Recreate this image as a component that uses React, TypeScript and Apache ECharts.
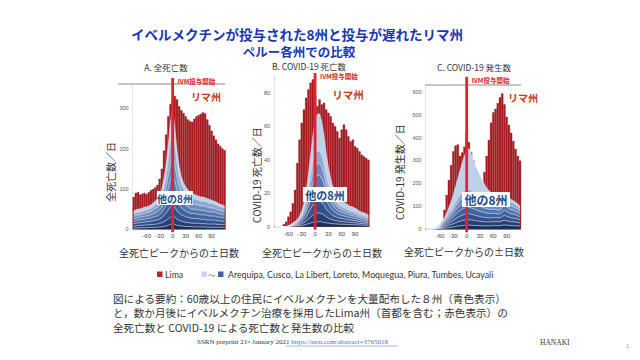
import React, { useEffect, useRef } from 'react';
import * as echarts from 'echarts';

const days = [-90,-85,-80,-75,-70,-65,-60,-55,-50,-45,-40,-35,-30,-25,-20,-15,-10,-5,0,5,10,15,20,25,30,35,40,45,50,55,60,65,70,75,80,85,90,95,100,105,110,115,120];
const tickDays = [-60,-30,0,30,60,90];

// A. 全死亡数
const limaA = [80,90,92,86,88,90,87,92,97,100,104,110,125,150,195,235,280,310,322,330,322,305,295,288,280,272,268,266,274,280,283,286,290,287,272,258,244,232,222,212,206,200,196];
const a1 = [3,3,3,4,4,4,4,4,5,5,5,5,6,6,7,8,10,12,14,12,10,9,8,8,7,7,7,6,6,6,6,6,6,6,5,5,5,5,5,5,5,5,5];
const a2 = [5,5,6,6,6,6,7,7,7,7,8,8,9,10,12,14,16,18,20,18,15,13,12,11,10,10,9,9,9,9,9,8,8,8,8,8,8,8,8,7,7,7,7];
const a3 = [6,7,7,7,7,8,8,8,8,9,10,10,11,13,15,18,22,26,28,25,21,18,16,15,14,13,12,12,12,12,11,11,11,11,10,10,10,10,9,9,9,8,8];
const a4 = [6,6,7,7,7,7,7,8,8,9,9,10,11,13,16,20,25,30,33,30,25,20,17,15,14,13,12,12,12,11,11,11,11,11,11,10,10,10,10,9,9,9,8];
const a5 = [6,6,6,6,7,7,7,7,8,8,9,10,11,13,16,21,28,35,40,34,26,20,17,15,14,13,12,11,11,11,11,11,11,10,10,10,10,10,9,9,9,8,8];
const a6 = [6,7,7,6,7,7,7,8,8,9,10,11,12,15,19,25,33,42,48,40,31,24,20,17,15,14,13,12,12,12,11,11,11,11,11,10,10,9,9,9,8,8,8];
const a7 = [6,7,7,7,7,8,8,8,8,9,9,10,12,15,20,27,38,50,57,47,35,27,22,19,17,16,15,14,13,13,13,12,12,12,12,12,11,11,11,10,9,9,9];
const a8 = [7,7,7,7,7,8,7,8,8,9,10,11,13,15,20,27,38,52,60,44,32,24,18,15,14,12,12,12,11,10,10,10,10,9,9,9,8,7,7,6,6,6,5];

// B. COVID-19 死亡数
const limaB = [0,0,0,0.5,1.5,3,6,9,14,22,38,52,62,70,77,82,86,88,78,72,76,73,74,70,68,66,62,60,57,53,58,61,58,54,51,52,48,47,45,43,42,41,40];
const b1 = [0,0,0,0,0,0,0,0.2,0.3,0.4,0.5,0.6,0.8,1,1.4,1.8,2.2,2.6,2.8,3,3,2.8,2.6,2.3,2.1,1.9,1.8,1.7,1.6,1.5,1.5,1.4,1.4,1.3,1.2,1.2,1.1,1.1,1,1,0.9,0.9,0.8];
const b2 = [0,0,0,0,0,0,0.1,0.2,0.3,0.4,0.5,0.7,1,1.4,2,2.8,3.6,4.4,5,5.2,5.2,4.9,4.4,3.6,3,2.6,2.2,2,1.8,1.7,1.6,1.5,1.4,1.3,1.3,1.2,1.2,1.1,1,0.9,0.9,0.8,0.7];
const b3 = [0,0,0,0,0,0,0.1,0.2,0.3,0.4,0.5,0.8,1.1,1.7,2.4,3.6,4.8,6,6.6,7,7,6.6,5.8,4.7,3.9,3.2,2.7,2.4,2.1,1.9,1.8,1.7,1.6,1.5,1.4,1.4,1.3,1.2,1.1,1,1,0.9,0.8];
const b4 = [0,0,0,0,0,0,0.1,0.1,0.3,0.4,0.6,0.8,1.2,1.9,2.8,4,5.4,6.8,7.6,8,8.1,7.6,6.6,5.3,4.3,3.5,2.9,2.5,2.2,2,1.9,1.8,1.7,1.6,1.5,1.4,1.3,1.2,1.1,1,1,0.9,0.8];
const b5 = [0,0,0,0,0,0,0.1,0.1,0.2,0.4,0.5,0.8,1.1,1.8,2.6,3.8,5.1,6.3,7.1,7.5,7.6,7.1,6.2,5,4.1,3.4,2.8,2.4,2.1,1.9,1.8,1.7,1.6,1.5,1.4,1.4,1.3,1.2,1.1,1,1,0.9,0.7];
const b6 = [0,0,0,0,0,0,0,0.1,0.2,0.3,0.4,0.7,1,1.6,2.3,3.5,4.7,5.9,6.7,7,7.1,6.7,5.8,4.6,3.8,3.1,2.6,2.2,2,1.8,1.7,1.6,1.5,1.4,1.3,1.3,1.2,1.1,1,1,0.9,0.9,0.8];
const b7 = [0,0,0,0,0,0,0,0.1,0.2,0.3,0.5,0.6,1,1.5,2.3,3.5,4.9,6.2,7,7.4,7.4,6.9,6,4.8,3.9,3.2,2.6,2.2,1.9,1.7,1.6,1.5,1.5,1.4,1.3,1.3,1.2,1.1,1,1,0.9,0.8,0.8];
const b8 = [0,0,0,0,0,0,0.1,0.2,0.4,0.6,0.8,1.2,2,3,5,8,12,16,20,22,22,20,17,13,10,8,6,5,4.5,4,3.5,3.3,3,2.8,2.6,2.5,2.4,2.2,2,1.8,1.7,1.6,1.4];

// C. COVID-19 発生数
const limaC = [0,0,0,0,0,0,0,30,85,150,215,280,340,365,370,320,335,360,420,380,335,300,265,225,205,200,250,320,390,465,510,525,550,575,592,545,490,455,420,385,350,320,300];
const c1 = [0,0,0,0.3,1,2,3,4,5,6,8,9,10,12,14,15,16,17,18,18,18,17,17,16,16,15,15,15,15,15,16,16,16,16,18,19,18,17,16,16,15,15,14];
const c2 = [0,0,0,0.3,1,2,3,4,6,8,10,12,14,16,18,20,22,23,24,24,23,22,21,20,19,18,18,17,17,17,17,17,17,17,19,20,19,18,17,17,16,15,14];
const c3 = [0,0,0,0.3,1,2,3,5,6,8,10,12,15,18,20,22,24,25,26,26,25,24,23,22,21,20,19,19,18,18,18,18,17,17,19,21,20,18,17,16,16,15,13];
const c4 = [0,0,0,0.3,1,2,3,5,7,9,11,13,16,19,22,24,26,27,28,28,27,26,25,24,23,22,21,20,19,19,19,18,17,17,20,22,21,19,18,17,16,15,13];
const c5 = [0,0,0,0.3,1,2,3,5,6,8,10,12,15,18,21,23,25,26,27,27,26,25,24,23,22,21,20,19,18,18,18,17,17,16,19,21,20,18,17,17,16,15,13];
const c6 = [0,0,0,0.2,1,1.5,3,4,6,8,10,12,14,17,20,22,24,25,26,26,25,24,23,22,21,20,19,18,18,17,17,17,16,16,18,20,19,17,16,16,15,14,12];
const c7 = [0,0,0,0.2,1,1.5,3,4,6,8,10,12,14,17,19,21,23,24,25,25,24,23,22,21,20,19,18,17,17,16,16,16,15,15,17,19,18,17,16,15,14,13,12];
const c8 = [0,0,0,0.2,1,2,4,7,8,15,26,38,52,68,86,108,130,153,171,178,162,139,120,107,93,80,65,55,46,40,34,31,25,21,20,20,20,16,13,11,10,8,9];

const stateNames = ['Arequipa','Cusco','La Libert','Loreto','Moquegua','Piura','Tumbes','Ucayali'];
const blueColors = ['#1b2e58','#253f73','#30518d','#3e63a0','#5276b0','#6a8cc0','#8daad3','#bdd1e9'];
const yTicksA = [0,100,200,300];
const yTicksB = [0,20,40,60,80];
const yTicksC = [0,100,200,300,400,500,600];

const FONT = "'Noto Sans CJK JP', 'Noto Sans', sans-serif";

function buildSeries(gi: number, stack: string, lima: number[], bands: number[][]) {
  const out: any[] = [];
  out.push({
    type: 'bar', name: 'Lima', xAxisIndex: gi, yAxisIndex: gi,
    data: lima, barCategoryGap: '0%', z: 1, silent: true,
    itemStyle: { color: '#ad1b20', borderColor: '#80131a', borderWidth: 0.3 },
  });
  bands.forEach((b, k) => {
    out.push({
      type: 'line', name: stateNames[k], xAxisIndex: gi, yAxisIndex: gi, stack,
      data: b, symbol: 'none', showSymbol: false, silent: true, z: 3,
      lineStyle: { width: 0.7, color: 'rgba(232,240,250,0.85)' },
      areaStyle: { color: blueColors[k], opacity: 1 },
    });
  });
  return out;
}

const xAxisBase = (gi: number) => ({
  type: 'category', gridIndex: gi, data: days.map(String), boundaryGap: true,
  axisLine: { show: true, lineStyle: { color: '#bdbdbd', width: 0.8 } },
  axisTick: { show: false },
  splitLine: { show: false },
  axisLabel: {
    interval: (_i: number, v: string) => tickDays.indexOf(Number(v)) >= 0,
    fontSize: 6, color: '#444', margin: 4, fontFamily: 'Liberation Sans',
  },
});
const yAxisBase = (gi: number, max: number, ticks: number[]) => ({
  type: 'value', gridIndex: gi, min: 0, max,
  axisLine: { show: true, lineStyle: { color: '#dddddd', width: 0.8 } },
  axisTick: { show: false },
  splitLine: { show: false },
  axisLabel: { customValues: ticks, fontSize: 5.5, color: '#555', margin: 4, fontFamily: 'Liberation Sans' },
});

export default function App() {
  const ref = useRef<HTMLDivElement>(null);
  useEffect(() => {
    if (!ref.current) return;
    const chart = echarts.init(ref.current, null, { renderer: 'svg' });
    const option: any = {
      animation: false,
      backgroundColor: '#ffffff',
      textStyle: { fontFamily: FONT },
      grid: [
        { left: 132.6, top: 84, width: 93.1, height: 145.3 },
        { left: 274, top: 76, width: 95.5, height: 150.7 },
        { left: 425.6, top: 84.8, width: 95.5, height: 144.5 },
      ],
      xAxis: [xAxisBase(0), xAxisBase(1), xAxisBase(2)],
      yAxis: [yAxisBase(0, 360, yTicksA), yAxisBase(1, 90, yTicksB), yAxisBase(2, 630, yTicksC)],
      series: [
        ...buildSeries(0, 'A', limaA, [a1, a2, a3, a4, a5, a6, a7, a8]),
        ...buildSeries(1, 'B', limaB, [b1, b2, b3, b4, b5, b6, b7, b8]),
        ...buildSeries(2, 'C', limaC, [c1, c2, c3, c4, c5, c6, c7, c8]),
      ],
    };
    chart.setOption(option);

    const g: any[] = [];
    const txt = (x: number, y: number, text: string, s: any = {}, extra: any = {}) =>
      g.push({ type: 'text', x, y, z: 100, ...extra, style: { text, fontFamily: FONT, align: 'center', verticalAlign: 'middle', fill: '#333', fontSize: 10, ...s } });

    // title
    txt(297, 33.5, 'イベルメクチンが投与された8州と投与が遅れたリマ州', { fontSize: 13.5, fontWeight: 'bold', fill: '#1b35b2' });
    txt(299, 51.5, 'ペルー各州での比較', { fontSize: 12.5, fontWeight: 'bold', fill: '#1b35b2' });
    // subtitles
    txt(166, 67, 'A. 全死亡数', { fontSize: 8.5, fill: '#333' });
    txt(309, 66, 'B. COVID-19 死亡数', { fontSize: 8.5, fill: '#333' });
    txt(474, 67, 'C. COVID-19 発生数', { fontSize: 8.5, fill: '#333' });
    // y names
    txt(110, 172, '全死亡数／日', { fontSize: 10 }, { rotation: Math.PI / 2 });
    txt(256, 175, 'COVID-19 死亡数／日', { fontSize: 10 }, { rotation: Math.PI / 2 });
    txt(399, 172, 'COVID-19 発生数／日', { fontSize: 10 }, { rotation: Math.PI / 2 });
    // x names
    txt(179, 252, '全死亡ピークからの±日数', { fontSize: 10 });
    txt(322, 252, '全死亡ピークからの±日数', { fontSize: 10 });
    txt(464, 251, '全死亡ピークからの±日数', { fontSize: 10 });
    // top gray lines
    g.push({ type: 'line', z: 5, shape: { x1: 118, y1: 84, x2: 225, y2: 84 }, style: { stroke: '#8c8c8c', lineWidth: 1.2 } });
    g.push({ type: 'line', z: 5, shape: { x1: 425, y1: 85, x2: 521, y2: 85 }, style: { stroke: '#8c8c8c', lineWidth: 1.2 } });
    // Lima labels
    txt(206, 96, 'リマ州', { fontSize: 10, fontWeight: 'bold', fill: '#c43a1d' });
    txt(348, 94, 'リマ州', { fontSize: 10.5, fontWeight: 'bold', fill: '#c43a1d' });
    txt(523, 97.5, 'リマ州', { fontSize: 10, fontWeight: 'bold', fill: '#c43a1d' });
    // other 8 states boxes
    const box = (x: number, y: number, w: number, h: number, fs: number) => {
      g.push({ type: 'rect', z: 90, shape: { x, y, width: w, height: h }, style: { fill: '#ffffff' } });
      txt(x + w / 2, y + h / 2, '他の8州', { fontSize: fs, fontWeight: 'bold', fill: '#1f4d8a' });
    };
    box(157, 191, 36, 14, 10);
    box(303, 187, 44, 15, 11);
    box(462, 192, 48, 15, 12);

    // IVM start lines at day 0
    const zeroIdx = days.indexOf(0);
    const cfg = [
      { gi: 0, max: 360, pad: 6 },
      { gi: 1, max: 90, pad: 3 },
      { gi: 2, max: 630, pad: 8 },
    ];
    cfg.forEach((c) => {
      const p0 = chart.convertToPixel({ gridIndex: c.gi } as any, [zeroIdx, 0]) as number[];
      const p1 = chart.convertToPixel({ gridIndex: c.gi } as any, [zeroIdx, c.max]) as number[];
      const top = p1[1] - c.pad;
      g.push({ type: 'line', z: 80, shape: { x1: p0[0], y1: p0[1] + 3, x2: p0[0], y2: top }, style: { stroke: '#e0242d', lineWidth: 2.8 } });
      g.push({ type: 'text', z: 100, x: p0[0] + 5, y: top + 3, style: { text: 'IVM投与開始', fontFamily: FONT, fontSize: 6.5, fontWeight: 'bold', fill: '#d9232b', align: 'left', verticalAlign: 'middle' } });
    });

    // legend
    g.push({ type: 'rect', z: 100, shape: { x: 157, y: 271.5, width: 5.5, height: 5.5 }, style: { fill: '#c0202a' } });
    g.push({ type: 'text', z: 100, x: 165, y: 274.5, style: { text: 'Lima', fontFamily: 'Lato', fontSize: 8.8, fill: '#333', verticalAlign: 'middle' } });
    g.push({ type: 'rect', z: 100, shape: { x: 201.5, y: 271.5, width: 5.5, height: 5.5 }, style: { fill: '#c9d7ea' } });
    g.push({ type: 'text', z: 100, x: 208, y: 274.5, style: { text: '〜', fontFamily: FONT, fontSize: 7, fill: '#555', verticalAlign: 'middle' } });
    g.push({ type: 'rect', z: 100, shape: { x: 218, y: 271.5, width: 5.5, height: 5.5 }, style: { fill: '#3f64a6' } });
    g.push({ type: 'text', z: 100, x: 228, y: 274.5, style: { text: stateNames.join(', '), fontFamily: 'Lato', fontSize: 8.8, fill: '#333', verticalAlign: 'middle' } });

    // summary text
    const para = [
      '図による要約：60歳以上の住民にイベルメクチンを大量配布した８州（青色表示）',
      'と，数か月後にイベルメクチン治療を採用したLima州（首都を含む；赤色表示）の',
      '全死亡数と COVID-19 による死亡数と発生数の比較',
    ];
    para.forEach((t, i) => {
      g.push({ type: 'text', z: 100, x: 113, y: 298 + i * 14.5, style: { text: t, fontFamily: FONT, fontSize: 10.6, fill: '#333', verticalAlign: 'middle' } });
    });

    // footer
    g.push({
      type: 'text', z: 100, x: 197, y: 342,
      style: {
        text: '{a|SSRN preprint 21}{s|st}{a| January 2021 }{u|https://ssrn.com/abstract=3765018}',
        verticalAlign: 'middle',
        rich: {
          a: { fontFamily: 'Liberation Serif', fontSize: 7, fill: '#333' },
          s: { fontFamily: 'Liberation Serif', fontSize: 4.5, fill: '#333', verticalAlign: 'top' },
          u: { fontFamily: 'Liberation Serif', fontSize: 7, fill: '#4a6fc2' },
        },
      },
    });
    g.push({ type: 'line', z: 100, shape: { x1: 286, y1: 346, x2: 398, y2: 346 }, style: { stroke: '#4a6fc2', lineWidth: 0.5 } });
    g.push({ type: 'text', z: 100, x: 540, y: 342, style: { text: 'HANAKI', fontFamily: 'Liberation Serif', fontSize: 7.5, fill: '#333', verticalAlign: 'middle' } });
    g.push({ type: 'text', z: 100, x: 626, y: 346, style: { text: '1', fontFamily: 'Liberation Sans', fontSize: 5.5, fill: '#999', verticalAlign: 'middle' } });

    chart.setOption({ graphic: g });
    return () => chart.dispose();
  }, []);
  return <div ref={ref} style={{ position: 'fixed', left: 0, top: 0, width: 640, height: 360 }} />;
}
